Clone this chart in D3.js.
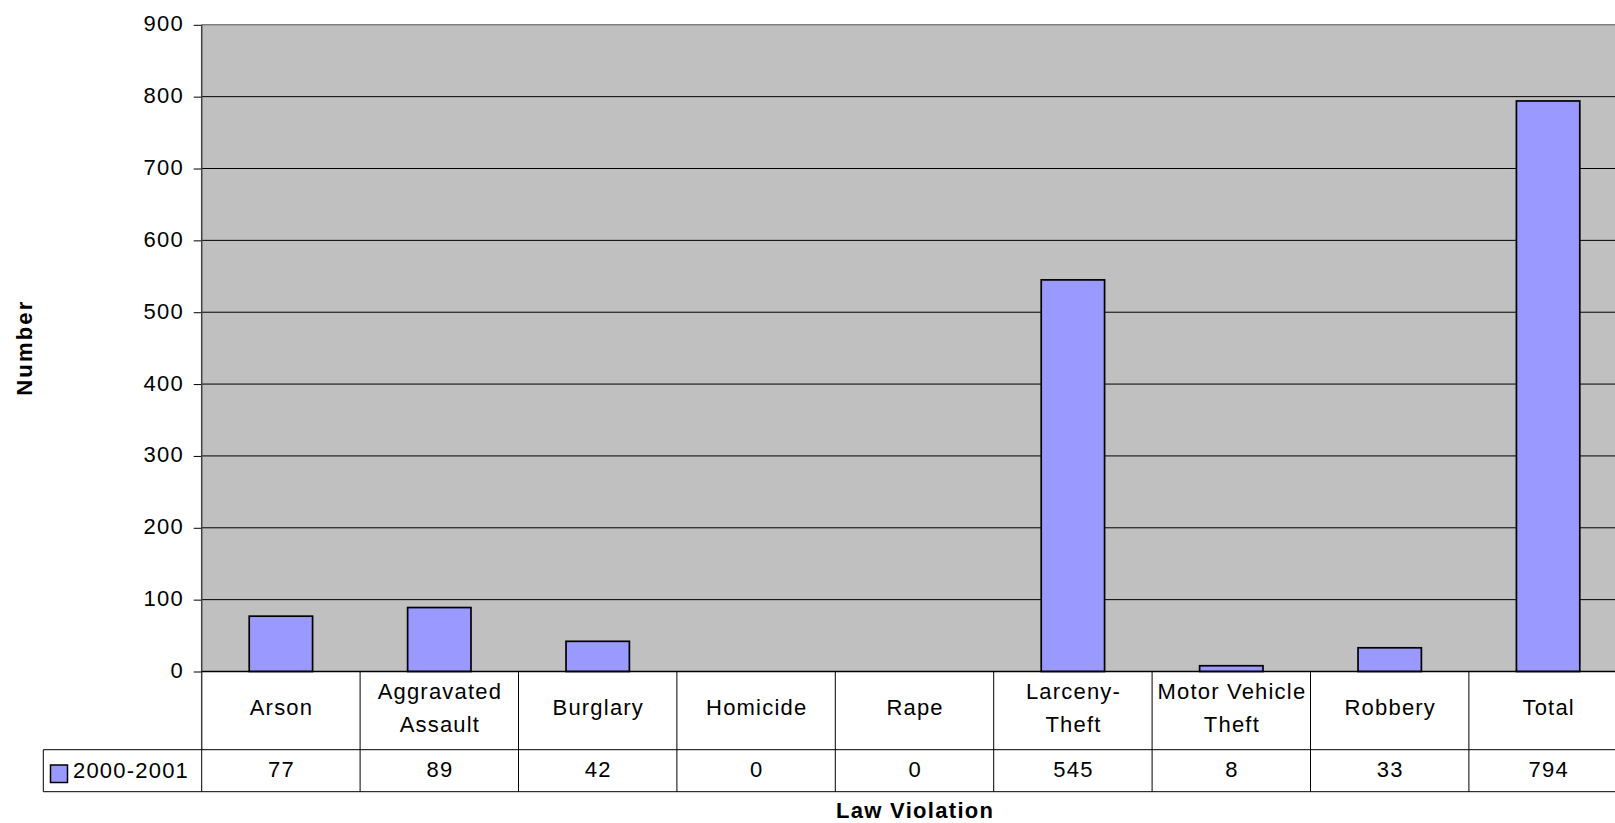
<!DOCTYPE html>
<html><head><meta charset="utf-8">
<script src="https://cdn.jsdelivr.net/npm/d3@7"></script>
<style>
html,body{margin:0;padding:0;background:#fff;overflow:hidden}
svg{display:block}
text{font-family:"Liberation Sans",Arial,sans-serif;fill:#000}
</style></head><body>
<svg id="chart" width="1615" height="823"></svg>
<script>
const categories = ["Arson","Aggravated Assault","Burglary","Homicide","Rape","Larceny-Theft","Motor Vehicle Theft","Robbery","Total"];
const categoryLines = [["Arson"],["Aggravated","Assault"],["Burglary"],["Homicide"],["Rape"],["Larceny-","Theft"],["Motor Vehicle","Theft"],["Robbery"],["Total"]];
const seriesName = "2000-2001";
const values = [77,89,42,0,0,545,8,33,794];
const yTicks = [0,100,200,300,400,500,600,700,800,900];
const xTitle = "Law Violation";
const yTitle = "Number";

(function(){
const svg = d3.select("#chart");
const pLeft = 201.7, step = 158.4, pTop = 24.8, zeroY = 671.5;
const pRight = pLeft + categories.length * step;
const headerBottom = 749.7, tableBottom = 791.7, legendLeft = 43.3;
const LS = "1.2px", FS = 22;

const x = d3.scaleBand().domain(categories).range([pLeft, pRight]).padding(0);
const y = d3.scaleLinear().domain([0, 900]).range([zeroY, pTop]);

// plot background
svg.append("rect").attr("x", pLeft).attr("y", pTop).attr("width", pRight - pLeft).attr("height", zeroY - pTop).attr("fill", "#c0c0c0");

// gridlines
svg.append("g").selectAll("line").data(yTicks.filter(t => t > 0 && t < 900)).join("line")
  .attr("x1", pLeft).attr("x2", pRight).attr("y1", d => y(d)).attr("y2", d => y(d))
  .attr("stroke", "#000").attr("stroke-width", 1);
// top border
svg.append("line").attr("x1", pLeft).attr("x2", pRight).attr("y1", y(900)).attr("y2", y(900)).attr("stroke", "#808080").attr("stroke-width", 1.5);

// y axis
const yAxis = d3.axisLeft(y).tickValues(yTicks).tickSize(8).tickPadding(9.8).tickFormat(d3.format("d"));
const ya = svg.append("g").attr("transform", `translate(${pLeft},0)`).call(yAxis);
ya.select(".domain").remove();
ya.selectAll(".tick line").attr("stroke", "#000").attr("stroke-width", 1);
ya.selectAll(".tick text").attr("font-size", FS).attr("font-family", '"Liberation Sans",Arial,sans-serif')
  .attr("letter-spacing", LS).attr("dy", null).attr("dominant-baseline", "central").attr("y", -1.5).attr("fill", "#000");

// bars
svg.append("g").selectAll("rect").data(values).join("rect")
  .attr("x", (d, i) => x(categories[i]) + x.bandwidth() * 0.3)
  .attr("width", x.bandwidth() * 0.4)
  .attr("y", d => y(d))
  .attr("height", d => zeroY - y(d))
  .attr("fill", "#9999ff").attr("stroke", "#000").attr("stroke-width", 1.7);

// left axis line
svg.append("line").attr("x1", pLeft).attr("x2", pLeft).attr("y1", pTop).attr("y2", headerBottom).attr("stroke", "#404040").attr("stroke-width", 1.5);

// table lines
const tl = svg.append("g").attr("stroke", "#000").attr("stroke-width", 1);
tl.append("line").attr("x1", pLeft).attr("x2", pRight).attr("y1", zeroY).attr("y2", zeroY).attr("stroke-width", 1.5);
tl.append("line").attr("x1", legendLeft).attr("x2", pRight).attr("y1", headerBottom).attr("y2", headerBottom);
tl.append("line").attr("x1", legendLeft).attr("x2", pRight).attr("y1", tableBottom).attr("y2", tableBottom);
tl.append("line").attr("x1", legendLeft).attr("x2", legendLeft).attr("y1", headerBottom).attr("y2", tableBottom);
tl.selectAll(".vcell").data(categories).join("line").attr("class", "vcell")
  .attr("x1", d => x(d) + x.bandwidth()).attr("x2", d => x(d) + x.bandwidth())
  .attr("y1", zeroY).attr("y2", tableBottom);
tl.append("line").attr("x1", pLeft).attr("x2", pLeft).attr("y1", headerBottom).attr("y2", tableBottom);

// header labels
const hdr = svg.append("g");
categories.forEach((c, i) => {
  const lines = categoryLines[i];
  const cx = x(c) + x.bandwidth() / 2 + 0.6;
  const baselines = lines.length === 1 ? [715] : [698.8, 732];
  lines.forEach((ln, j) => {
    hdr.append("text").attr("x", cx).attr("y", baselines[j]).attr("text-anchor", "middle")
      .attr("font-size", FS).attr("letter-spacing", LS).text(ln);
  });
});

// data row
svg.append("g").selectAll("text").data(values).join("text")
  .attr("x", (d, i) => x(categories[i]) + x.bandwidth() / 2 + 0.6)
  .attr("y", 776.7).attr("text-anchor", "middle").attr("font-size", FS).attr("letter-spacing", LS)
  .text(d => d);

// legend in table
svg.append("rect").attr("x", 50.5).attr("y", 765).attr("width", 17).attr("height", 17.5)
  .attr("fill", "#9999ff").attr("stroke", "#000").attr("stroke-width", 1.5);
svg.append("text").attr("x", 73).attr("y", 777.5).attr("font-size", FS).attr("letter-spacing", LS).text(seriesName);

// axis titles
svg.append("text").attr("x", (pLeft + pRight) / 2 + 0.65).attr("y", 818.3).attr("text-anchor", "middle")
  .attr("font-size", FS).attr("font-weight", "bold").attr("letter-spacing", "1.3px").text(xTitle);
svg.append("text").attr("transform", `translate(31.5,${(pTop + zeroY) / 2 - 0.5}) rotate(-90)`).attr("text-anchor", "middle")
  .attr("font-size", FS).attr("font-weight", "bold").attr("letter-spacing", "2.2px").text(yTitle);
})();
</script>
</body></html>
